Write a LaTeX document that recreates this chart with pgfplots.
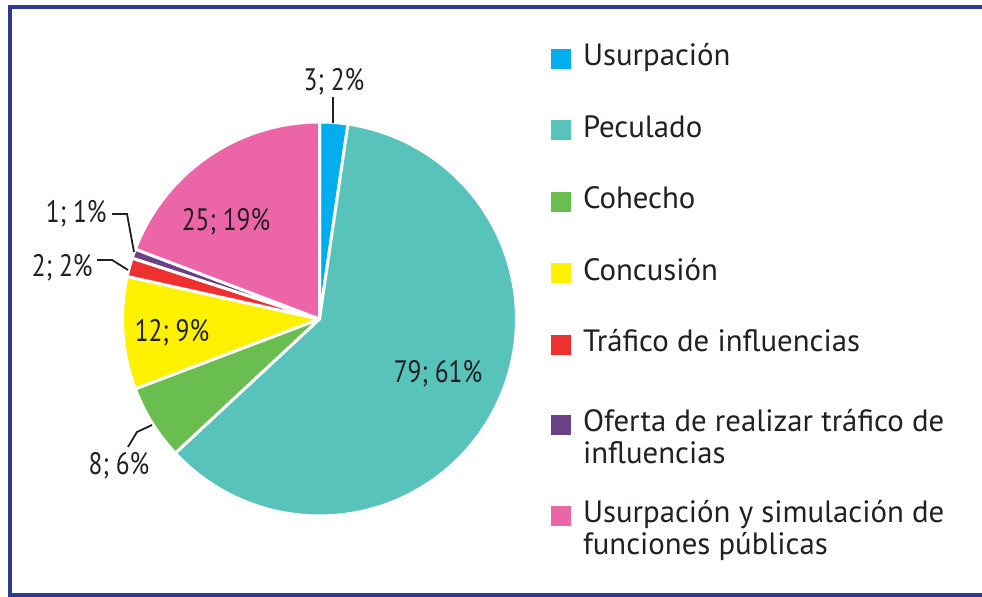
\documentclass[border=0pt]{standalone}
\usepackage{pgfplots}
\pgfplotsset{compat=1.18}
\usepackage{fontspec}
\setmainfont{PT Sans}
\newfontfamily\condfont[FakeStretch=0.82]{PT Sans}
\definecolor{cUsu}{HTML}{00AEEF}
\definecolor{cPec}{HTML}{57C3BA}
\definecolor{cCoh}{HTML}{6ABD4F}
\definecolor{cCon}{HTML}{FFF100}
\definecolor{cTra}{HTML}{EE3030}
\definecolor{cOfe}{HTML}{6A4184}
\definecolor{cSim}{HTML}{EC65A7}
\definecolor{frame}{HTML}{2E3A92}
\definecolor{txt}{HTML}{231F20}
% total = 130
\newcommand{\slice}[3]{%
  \pgfmathsetmacro\aS{90-(360/130)*(#1+#2)}%
  \pgfmathsetmacro\aE{90-(360/130)*(#1)}%
  \addplot[fill=#3, draw=white, line width=1.5pt, line join=round,
    domain=\aS:\aE, samples=90, variable=\t]
    ({319.5+197*cos(\t)}, {319-197*sin(\t)}) -- (axis cs:319.5,319) -- cycle;
}
\begin{document}
\begin{tikzpicture}
\begin{axis}[
  width=491pt, height=298.5pt, scale only axis,
  xmin=0, xmax=982, ymin=0, ymax=597, y dir=reverse,
  hide axis, clip=false,
  legend image code/.code={\fill[#1,draw=none] (0pt,-1.5pt) rectangle (10pt,8.5pt);},
  legend style={at={(axis cs:551,30)}, anchor=north west, draw=none, fill=none,
    inner sep=0pt, outer sep=0pt, row sep=0pt, column sep=6pt,
    nodes={inner sep=0pt, outer sep=0pt, text height=18pt, text depth=17.75pt},
    cells={anchor=base west},
    font=\fontsize{15.4}{16}\selectfont, text=txt},
]
\slice{0}{3}{cUsu}
\addlegendentry{Usurpación}
\slice{3}{79}{cPec}
\addlegendentry{Peculado}
\slice{82}{8}{cCoh}
\addlegendentry{Cohecho}
\slice{90}{12}{cCon}
\addlegendentry{Concusión}
\slice{102}{2}{cTra}
\addlegendentry[text depth=22pt]{Tráfico de influencias}
\slice{104}{1}{cOfe}
\addlegendentry[text depth=27.5pt]{\parbox[t]{220pt}{Oferta de realizar tráfico de\\influencias}}
\slice{105}{25}{cSim}
\addlegendentry[text depth=27.5pt]{\parbox[t]{220pt}{Usurpación y simulación de\\funciones públicas}}

\coordinate (BL) at (axis cs:0,597);
\coordinate (TR) at (axis cs:982,0);

\begin{scope}[every node/.style={text=txt, inner sep=0pt, font=\condfont\fontsize{15.5}{16}\selectfont}]
\node[anchor=base] at (axis cs:334,91) {3; 2\%};
\node[anchor=base east] at (axis cs:107,223) {1; 1\%};
\node[anchor=base east] at (axis cs:93,277) {2; 2\%};
\node[anchor=base] at (axis cs:119,475) {8; 6\%};
\node[anchor=base] at (axis cs:226,231) {25; 19\%};
\node[anchor=base] at (axis cs:172,342) {12; 9\%};
\node[anchor=base] at (axis cs:438,383) {79; 61\%};
\end{scope}
\begin{scope}[txt, line width=0.9pt]
\draw (axis cs:333,97) -- (axis cs:333,123);
\draw (axis cs:112,214) -- (axis cs:127,214) -- (axis cs:134,252);
\draw (axis cs:97,260) -- (axis cs:112,260) -- (axis cs:128,270);
\draw (axis cs:128,447) -- (axis cs:137,432) -- (axis cs:152,425);
\end{scope}
\draw[frame, line width=2pt] (axis cs:995,7.5) -- (axis cs:10.3,7.5) -- (axis cs:10.3,595.5) -- (axis cs:995,595.5);
\end{axis}
\pgfresetboundingbox
\useasboundingbox (BL) rectangle (TR);
\end{tikzpicture}
\end{document}
